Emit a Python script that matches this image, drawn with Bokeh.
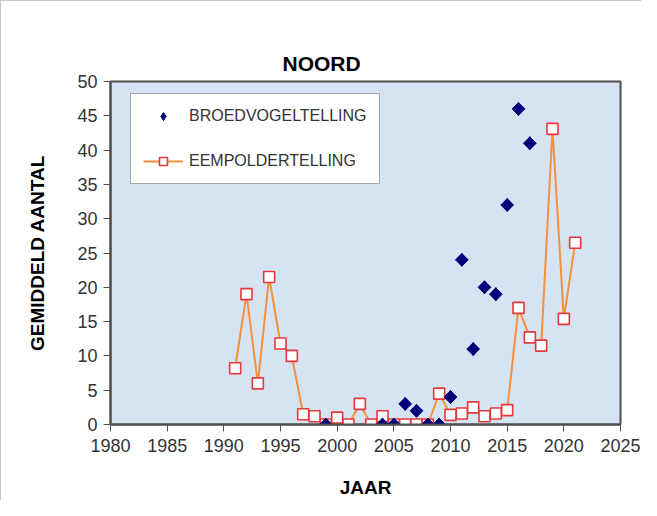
from bokeh.plotting import figure
from bokeh.models import Range1d, Legend, LegendItem, FixedTicker, ColumnDataSource
from bokeh.embed import file_html
from bokeh.resources import INLINE

# ---- data ----
eem_years = list(range(1991, 2022))
eem_values = [8.2, 19.0, 6.0, 21.5, 11.8, 10.0, 1.5, 1.2, 0.0, 1.0, 0.0, 3.0, 0.0, 1.2, 0.0,
              0.0, 0.0, 0.0, 4.5, 1.4, 1.6, 2.5, 1.2, 1.6, 2.1, 17.0, 12.7, 11.5, 43.1, 15.4, 26.5]
broed_years = [1999, 2004, 2005, 2006, 2007, 2008, 2009, 2010, 2011, 2012, 2013, 2014, 2015, 2016, 2017]
broed_values = [0, 0, 0, 3, 2, 0, 0, 4, 24, 11, 20, 19, 32, 46, 41]
x_ticks = [1980, 1985, 1990, 1995, 2000, 2005, 2010, 2015, 2020, 2025]
y_ticks = [0, 5, 10, 15, 20, 25, 30, 35, 40, 45, 50]

FONT = "Liberation Sans"

p = figure(width=641, height=500, output_backend="svg", toolbar_location=None,
           x_range=Range1d(1980, 2025), y_range=Range1d(0, 50),
           min_border_left=109, min_border_right=22, min_border_top=80, min_border_bottom=77)
p.styles = {"border-top": "1px solid #c8c8c8", "border-left": "1px solid #c8c8c8"}

p.border_fill_color = "white"
p.background_fill_color = "#d5e3f3"
p.outline_line_color = "#4d4d4d"
p.outline_line_width = 2
p.xgrid.visible = False
p.ygrid.visible = False

# title
p.title.text = "NOORD"
p.title.align = "left"
p.title.offset = 172
p.title.text_font = FONT
p.title.text_font_size = "21px"
p.title.text_font_style = "bold"
p.title.text_color = "black"
p.title.standoff = 13

for ax, ticks in ((p.xaxis[0], x_ticks), (p.yaxis[0], y_ticks)):
    ax.ticker = FixedTicker(ticks=ticks)
    ax.minor_tick_line_color = None
    ax.major_tick_out = 7
    ax.major_tick_in = 0
    ax.major_tick_line_color = "#4d4d4d"
    ax.axis_line_color = "#4d4d4d"
    ax.axis_line_width = 2
    ax.major_label_text_font = FONT
    ax.major_label_text_font_size = "18px"
    ax.major_label_text_color = "#333333"
    ax.axis_label_text_font = FONT
    ax.axis_label_text_font_size = "19px"
    ax.axis_label_text_font_style = "bold"
    ax.axis_label_text_color = "black"

p.xaxis[0].axis_label = "JAAR"
p.xaxis[0].major_label_standoff = 7
p.xaxis[0].axis_label_standoff = 22
p.yaxis[0].axis_label = "GEMIDDELD AANTAL"
p.yaxis[0].major_label_standoff = 6
p.yaxis[0].axis_label_standoff = 26

src_e = ColumnDataSource(dict(x=eem_years, y=eem_values))
src_b = ColumnDataSource(dict(x=broed_years, y=broed_values))

line_r = p.line("x", "y", source=src_e, line_color="#f5913b", line_width=2)
sq_r = p.scatter("x", "y", source=src_e, marker="square", size=11,
                 fill_color="white", line_color="#e5383b", line_width=1.6)
# diamond renderer used for the legend swatch (hidden under the rotated squares below)
dia_legend = p.scatter("x", "y", source=src_b, marker="diamond", size=13,
                       fill_color="#00007a", line_color="#00007a", line_width=1)
dia_r = p.scatter("x", "y", source=src_b, marker="square", angle=0.785398, size=9,
                  fill_color="#00007a", line_color="#00007a", line_width=1)

legend = Legend(items=[LegendItem(label="BROEDVOGELTELLING", renderers=[dia_legend]),
                       LegendItem(label="EEMPOLDERTELLING", renderers=[line_r, sq_r])],
                location=(20, 240), margin=0, padding=12, spacing=25,
                glyph_width=40, glyph_height=20, label_height=20, label_standoff=6,
                label_text_font=FONT, label_text_font_size="16px", label_text_color="#333333",
                border_line_color="#4d4d4d", border_line_width=1.5,
                background_fill_color="white", background_fill_alpha=1.0)
p.add_layout(legend, "center")

open("out.html", "w").write(file_html(p, INLINE))
